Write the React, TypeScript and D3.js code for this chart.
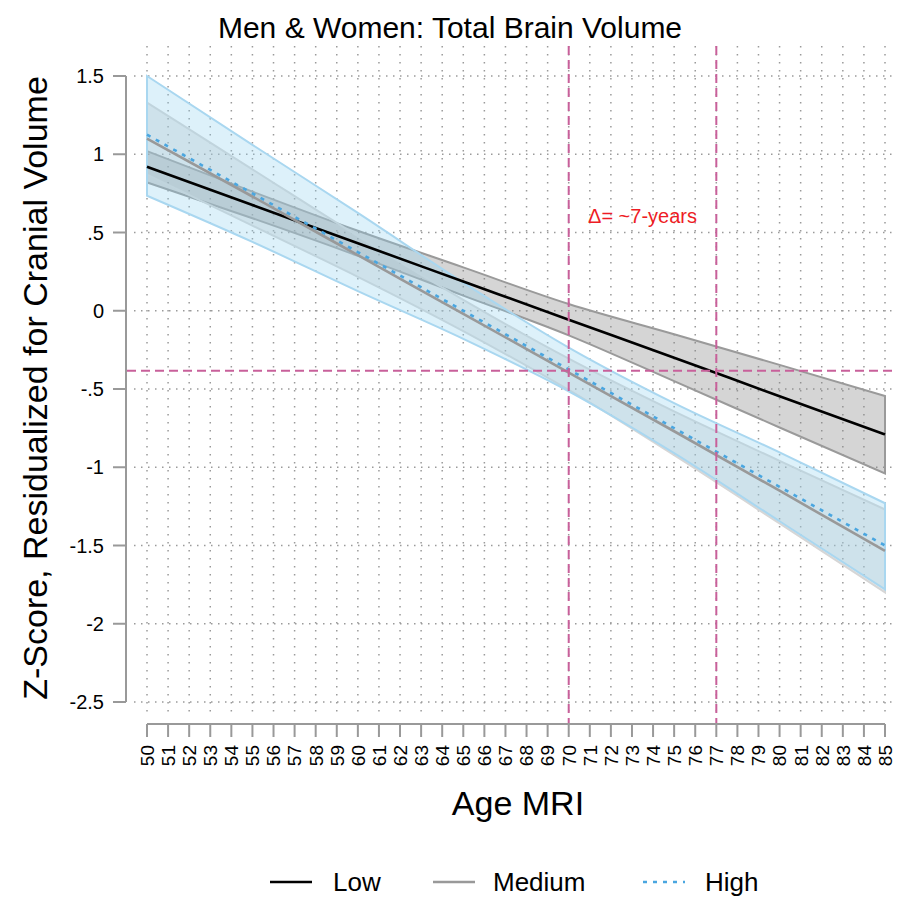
import React from "react";
import * as d3 from "d3";

const ages = [50, 55, 60, 65, 70, 75, 80, 85];
const lowFit = [0.92, 0.676, 0.431, 0.187, -0.057, -0.3, -0.546, -0.79];
const lowUpper = [1.02, 0.761, 0.511, 0.277, 0.043, -0.15, -0.346, -0.545];
const lowLower = [0.82, 0.591, 0.351, 0.097, -0.157, -0.45, -0.746, -1.04];
const medFit = [1.1, 0.73, 0.355, -0.02, -0.395, -0.77, -1.15, -1.535];
const medUpper = [1.33, 0.9035, 0.477, 0.07, -0.306, -0.643, -0.959, -1.27];
const medLower = [0.87, 0.5435, 0.217, -0.13, -0.506, -0.923, -1.359, -1.8];
const highFit = [1.125, 0.75, 0.375, 0.0, -0.375, -0.75, -1.125, -1.5];
const highUpper = [1.5, 1.06, 0.625, 0.18, -0.235, -0.59, -0.905, -1.23];
const highLower = [0.735, 0.44, 0.125, -0.18, -0.515, -0.91, -1.345, -1.78];

const xTicks = d3.range(50, 86);
const yTicks = [1.5, 1, 0.5, 0, -0.5, -1, -1.5, -2, -2.5];
const yTickLabels = ["1.5", "1", ".5", "0", "-.5", "-1", "-1.5", "-2", "-2.5"];
const refAges = [70, 77];
const refZ = -0.384;
const legendItems = ["Low", "Medium", "High"];

const FONT = "'Liberation Sans', Arial, Helvetica, sans-serif";

export default function App() {
  const x = d3.scaleLinear().domain([50, 85]).range([147, 885]);
  const y = d3.scaleLinear().domain([-2.5, 1.5]).range([702, 76]);

  const area = (lo: number[], hi: number[]) =>
    d3
      .area<number>()
      .x((_, i) => x(ages[i]))
      .y0((_, i) => y(lo[i]))
      .y1((_, i) => y(hi[i]))
      .curve(d3.curveMonotoneX)(ages) + "Z";
  const line = (v: number[]) =>
    d3
      .line<number>()
      .x((_, i) => x(ages[i]))
      .y((_, i) => y(v[i]))
      .curve(d3.curveMonotoneX)(ages) || "";

  const plotTop = 46;
  const plotBottom = 716;
  const plotLeft = 134;
  const plotRight = 897;
  const pink = "#c8609a";

  const bands = [
    { lo: lowLower, hi: lowUpper, fill: "#888", op: 0.35, stroke: "#9a9a9a" },
    { lo: medLower, hi: medUpper, fill: "#bbb", op: 0.3, stroke: "#d6d6d6" },
    { lo: highLower, hi: highUpper, fill: "#8fd0f0", op: 0.3, stroke: "#a9d7f0" },
  ];
  const lines = [
    { v: lowFit, stroke: "#000", dash: undefined as string | undefined },
    { v: medFit, stroke: "#999", dash: undefined },
    { v: highFit, stroke: "#4aa6e0", dash: "4,6" },
  ];
  const legendX = [270, 433, 643];
  const legendTextX = [333, 493, 705];

  return (
    <svg
      width={897}
      height={898}
      style={{ position: "absolute", left: 0, top: 0, background: "#fff" }}
      fontFamily={FONT}
    >
      <rect width={897} height={898} fill="#fff" />
      <text x={450} y={38} textAnchor="middle" fontSize={30}>
        Men &amp; Women: Total Brain Volume
      </text>

      {/* grid */}
      {xTicks.map((t) => (
        <line
          key={"gx" + t}
          x1={x(t)}
          x2={x(t)}
          y1={plotTop}
          y2={plotBottom}
          stroke="#9a9a9a"
          strokeWidth={1.5}
          strokeDasharray="1.5,6.5"
        />
      ))}
      {yTicks.map((t) => (
        <line
          key={"gy" + t}
          x1={plotLeft}
          x2={plotRight}
          y1={y(t)}
          y2={y(t)}
          stroke="#9a9a9a"
          strokeWidth={1.5}
          strokeDasharray="1.5,5.5"
        />
      ))}

      {/* bands */}
      {bands.map((b, i) => (
        <path
          key={"b" + i}
          d={area(b.lo, b.hi)}
          fill={b.fill}
          fillOpacity={b.op}
          stroke={b.stroke}
          strokeWidth={2}
        />
      ))}

      {/* lines */}
      {lines.map((l, i) => (
        <path
          key={"l" + i}
          d={line(l.v)}
          fill="none"
          stroke={l.stroke}
          strokeWidth={2.6}
          strokeDasharray={l.dash}
        />
      ))}

      {/* reference lines */}
      {refAges.map((a) => (
        <line
          key={"r" + a}
          x1={x(a)}
          x2={x(a)}
          y1={plotTop}
          y2={723}
          stroke={pink}
          strokeWidth={2}
          strokeDasharray="9,5"
        />
      ))}
      <line
        x1={127}
        x2={897}
        y1={y(refZ)}
        y2={y(refZ)}
        stroke={pink}
        strokeWidth={2}
        strokeDasharray="9,5"
      />
      <text
        x={(x(refAges[0]) + x(refAges[1])) / 2}
        y={223}
        textAnchor="middle"
        fontSize={20}
        fill="#ee1c25"
      >
        Δ= ~7-years
      </text>

      {/* y axis */}
      <line x1={126} x2={126} y1={y(1.5)} y2={y(-2.5)} stroke="#999" strokeWidth={2} />
      {yTicks.map((t, i) => (
        <g key={"yt" + t}>
          <line x1={113} x2={126} y1={y(t)} y2={y(t)} stroke="#999" strokeWidth={2} />
          <text x={104} y={y(t)} dy="0.36em" textAnchor="end" fontSize={20}>
            {yTickLabels[i]}
          </text>
        </g>
      ))}
      <text
        transform={`translate(47,${388}) rotate(-90)`}
        textAnchor="middle"
        fontSize={34}
      >
        Z-Score, Residualized for Cranial Volume
      </text>

      {/* x axis */}
      <line x1={x(50)} x2={x(85)} y1={724} y2={724} stroke="#999" strokeWidth={2} />
      {xTicks.map((t) => (
        <g key={"xt" + t}>
          <line x1={x(t)} x2={x(t)} y1={724} y2={737} stroke="#999" strokeWidth={2} />
          <text
            transform={`translate(${x(t)},${745}) rotate(-90)`}
            textAnchor="end"
            dy="0.36em"
            fontSize={19}
          >
            {t}
          </text>
        </g>
      ))}
      <text x={518} y={815} textAnchor="middle" fontSize={34}>
        Age MRI
      </text>

      {/* legend */}
      {legendItems.map((name, i) => (
        <g key={"lg" + name}>
          <line
            x1={legendX[i]}
            x2={legendX[i] + 42}
            y1={882}
            y2={882}
            stroke={lines[i].stroke}
            strokeWidth={2.6}
            strokeDasharray={lines[i].dash}
          />
          <text x={legendTextX[i]} y={891} fontSize={26}>
            {name}
          </text>
        </g>
      ))}
    </svg>
  );
}
